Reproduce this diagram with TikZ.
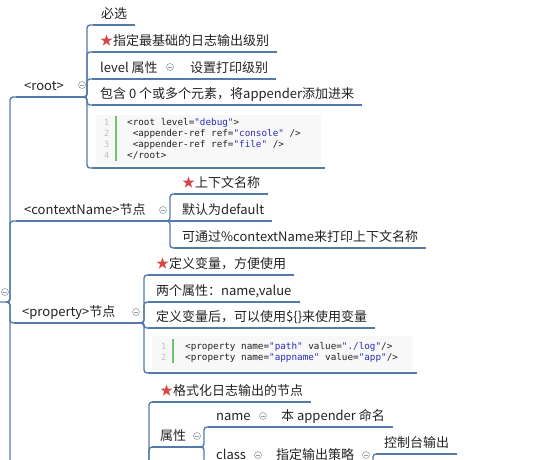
\documentclass[tikz,border=0pt]{standalone}
\usepackage{fontspec}
\setmainfont{Noto Sans CJK SC}
\setmonofont{DejaVu Sans Mono}

\definecolor{linecol}{RGB}{84,122,172}
\definecolor{txtcol}{RGB}{34,34,34}
\definecolor{starcol}{RGB}{214,70,70}
\definecolor{valcol}{RGB}{44,44,180}
\definecolor{barcol}{RGB}{112,196,112}
\definecolor{foldcol}{RGB}{150,160,172}
\definecolor{codebg}{RGB}{248,248,248}

\newcommand{\redstar}{\textcolor{starcol}{★}}
\newcommand{\val}[1]{\textcolor{valcol}{#1}}

\tikzset{
  topic/.style={anchor=south west, inner xsep=8pt, inner ysep=3pt,
    text height=11pt, text depth=3pt, text=txtcol,
    font=\fontsize{13}{15}\selectfont},
  branch/.style={draw=linecol, line width=1.4pt, rounded corners=3pt},
  fold/.style={circle, draw=foldcol, fill=white, line width=0.6pt, inner sep=0pt,
    minimum size=7pt, path picture={\draw[foldcol, line width=0.6pt]
      ([xshift=-2pt]path picture bounding box.center) --
      ([xshift=2pt]path picture bounding box.center);}},
  codebox/.style={anchor=south west, inner sep=0pt},
  codeline/.style={anchor=base west, inner sep=0pt, text=txtcol,
    font=\ttfamily\fontsize{9.3}{11}\selectfont},
  lineno/.style={anchor=base west, inner sep=0pt, text=gray!50,
    font=\ttfamily\fontsize{8.5}{11}\selectfont},
  codebar/.style={draw=barcol, line width=1.8pt},
}

\begin{document}
\begin{tikzpicture}[x=1pt, y=-1pt]
  \useasboundingbox (0,0) rectangle (554,459);
  \clip (0,0) rectangle (554,459);

  % Trunk
  \coordinate (mainW) at (-10,302);
  \coordinate (mainJ) at (6,302);
  \coordinate (next) at (10,490);
  \node[fold] (mainF) at (5,292) {};

  % First level
  \node[topic] (root) at (16,97) {<root>};
  \node[topic] (ctx) at (16,221) {<contextName>节点};
  \node[topic] (prop) at (14,323) {<property>节点};
  \coordinate (rootJ) at (84,97);
  \coordinate (ctxJ) at (167,221);
  \coordinate (propJ) at (141,323);
  \node[fold] (rootF) at (82,85) {};
  \node[fold] (ctxF) at (163,210) {};
  \node[fold] (propF) at (136,312) {};

  % <root> children
  \node[topic] (r1) at (93,25) {必选};
  \node[topic] (r2) at (92,52) {\redstar 指定最基础的日志输出级别};
  \node[topic] (r3) at (92,79) {level 属性};
  \coordinate (r3J) at (179,79);
  \node[fold] (r3F) at (170,67) {};
  \node[topic] (r3a) at (182,79) {设置打印级别};
  \node[topic] (r4) at (92,105) {包含 0 个或多个元素，将appender添加进来};
  \node[codebox, minimum width=233pt, minimum height=56pt] (r5) at (92,168) {};

  % <contextName> children
  \node[topic] (c1) at (174,194) {\redstar 上下文名称};
  \node[topic] (c2) at (174,221) {默认为default};
  \node[topic] (c3) at (174,248) {可通过\%contextName来打印上下文名称};

  % <property> children
  \node[topic] (p1) at (148,275) {\redstar 定义变量，方便使用};
  \node[topic] (p2) at (148,302) {两个属性：name,value};
  \node[topic] (p3) at (148,328) {定义变量后，可以使用\$\{\}来使用变量};
  \node[codebox, minimum width=269pt, minimum height=40pt] (p4) at (148,373) {};

  % appender children (parent below the page)
  \coordinate (aJ) at (146,490);
  \node[topic] (a1) at (152,402) {\redstar 格式化日志输出的节点};
  \node[topic] (a2) at (152,447) {属性};
  \coordinate (a2J) at (201,447);
  \node[fold] (a2F) at (197,436) {};
  \node[topic] (n1) at (208,427) {name};
  \coordinate (n1J) at (266,427);
  \node[fold] (n1F) at (263,416) {};
  \node[topic] (n1a) at (273,427) {本 appender 命名};
  \node[topic] (n2) at (208,466) {class};
  \coordinate (n2J) at (262,466);
  \node[fold] (n2F) at (258,455) {};
  \node[topic] (n2a) at (268,466) {指定输出策略};
  \coordinate (n2aJ) at (370,466);
  \node[fold] (n2aF) at (366,455) {};
  \node[topic] (n2b) at (376,454) {控制台输出};

  % Underlines
  \foreach \n in {r1,r2,r3a,r4,r5,c1,c2,c3,p1,p2,p3,p4,a1,n1a,n2b}
    \draw[branch] (\n.south west) -- (\n.south east);
  \foreach \n/\j in {root/rootJ,ctx/ctxJ,prop/propJ,r3/r3J,a2/a2J,n1/n1J,n2/n2J,n2a/n2aJ}
    \draw[branch] (\n.south west) -- (\j);

  % Connections
  \draw[branch] (mainW) -- (mainJ) -- ++(4,0) -- (next);
  \foreach \c in {root,ctx,prop} \draw[branch] (mainJ) -- ++(4,0) |- (\c.south west);
  \foreach \c in {r1,r2,r3,r4,r5} \draw[branch] (rootJ) -- ++(3,0) |- (\c.south west);
  \draw[branch] (r3J) -- (r3a.south west);
  \foreach \c in {c1,c3} \draw[branch] (ctxJ) -- ++(3,0) |- (\c.south west);
  \draw[branch] (ctxJ) -- (c2.south west);
  \foreach \c in {p1,p2,p3,p4} \draw[branch] (propJ) -- ++(3,0) |- (\c.south west);
  \foreach \c in {a1,a2} \draw[branch] (aJ) -- ++(3,0) |- (\c.south west);
  \foreach \c in {n1,n2} \draw[branch] (a2J) -- ++(3,0) |- (\c.south west);
  \draw[branch] (n1J) -- (n1a.south west);
  \draw[branch] (n2J) -- (n2a.south west);
  \draw[branch] (n2aJ) -- ++(3,0) |- (n2b.south west);

  % <root> code
  \fill[codebg] ([shift={(4,3)}]r5.north west) rectangle ([shift={(-4,-3)}]r5.south east);
  \draw[codebar] (116,116) -- (116,161);
  \foreach \i in {1,...,4} \node[lineno] (rn\i) at (104,114.5+11*\i) {\i};
  \foreach \i/\t in {1/{<root level=\val{"debug"}>},
                     2/{\ <appender-ref ref=\val{"console"} />},
                     3/{\ <appender-ref ref=\val{"file"} />},
                     4/{</root>}}
    \node[codeline] (rc\i) at (127,114.5+11*\i) {\t};

  % <property> code
  \fill[codebg] ([shift={(4,3)}]p4.north west) rectangle ([shift={(-4,-3)}]p4.south east);
  \draw[codebar] (173,339) -- (173,363);
  \foreach \i in {1,2} \node[lineno] (pn\i) at (161,338.5+11*\i) {\i};
  \foreach \i/\t in {1/{<property name=\val{"path"} value=\val{"./log"}/>},
                     2/{<property name=\val{"appname"} value=\val{"app"}/>}}
    \node[codeline] (pc\i) at (185,338.5+11*\i) {\t};
\end{tikzpicture}
\end{document}
